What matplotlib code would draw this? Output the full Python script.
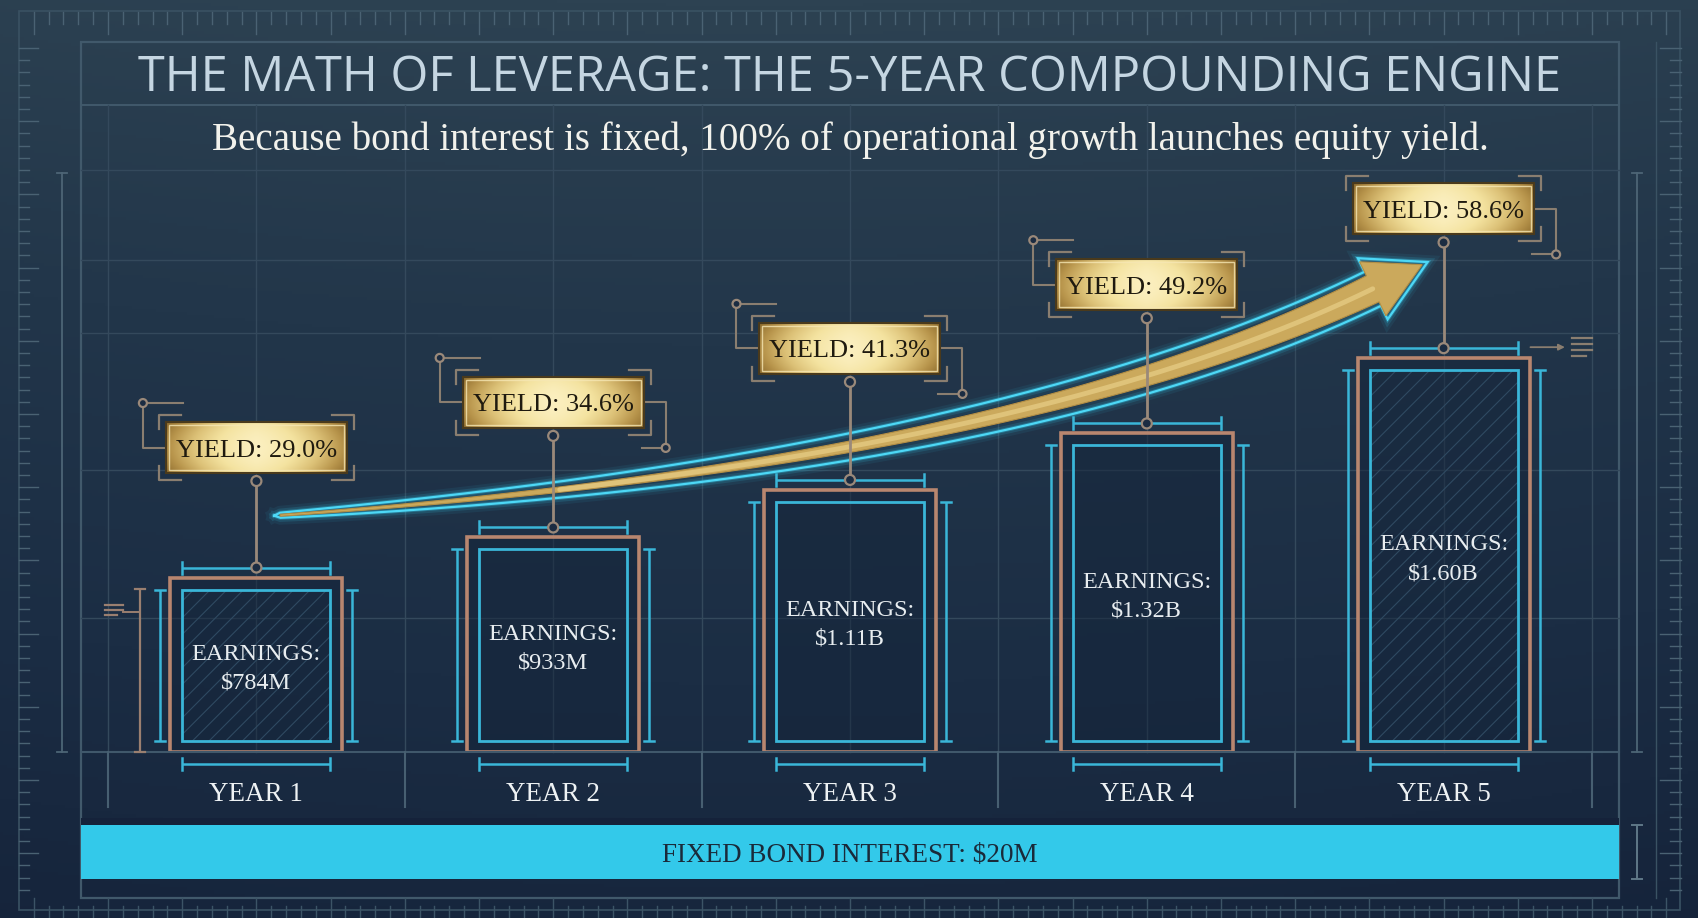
import numpy as np
import matplotlib.pyplot as plt
from matplotlib.patches import Rectangle, Circle, Polygon
from matplotlib.colors import LinearSegmentedColormap, to_rgba

# ---- data ----
years = ['YEAR 1', 'YEAR 2', 'YEAR 3', 'YEAR 4', 'YEAR 5']
earnings = [784, 933, 1110, 1320, 1600]          # $M
earnings_text = ['$784M', '$933M', '$1.11B', '$1.32B', '$1.60B']
yields = [29.0, 34.6, 41.3, 49.2, 58.6]           # equity yield, %
bond_interest = 20                                 # $M, fixed

title = 'THE MATH OF LEVERAGE: THE 5-YEAR COMPOUNDING ENGINE'
subtitle = 'Because bond interest is fixed, 100% of operational growth launches equity yield.'

W, H = 1698, 918
BRONZE = '#b8866f'
CYAN = '#3ab6d8'
LINE = '#9a897a'
GRID = '#34495c'
FRAME = '#41596b'
DARK = '#1b2c42'
SERIF = ['Liberation Serif', 'DejaVu Serif']
floor = 135  # value at the baseline of the bar axis

fig = plt.figure(figsize=(W / 100, H / 100), dpi=100)


def pix_axes(z):
    a = fig.add_axes([0, 0, 1, 1], zorder=z)
    a.set_xlim(0, W)
    a.set_ylim(H, 0)
    a.set_autoscale_on(False)
    a.axis('off')
    return a


bg = pix_axes(0)

# background gradient
yy = np.linspace(0, 1, 300)[:, None]
xx = np.linspace(0, 1, 500)[None, :]
val = 0.85 * yy + 0.25 * (xx - 0.45) ** 2
bg_cmap = LinearSegmentedColormap.from_list('bg', ['#2d4252', '#22364a', '#1b2d44', '#15233a'])
bg.imshow(val, cmap=bg_cmap, extent=[0, W, H, 0], aspect='auto', zorder=0, vmin=0, vmax=0.95)

# frames
bg.add_patch(Rectangle((19, 11), 1661, 899, fill=False, ec='#3a5263', lw=1.2, zorder=1))
bg.add_patch(Rectangle((81, 42), 1538, 856, fill=False, ec=FRAME, lw=1.6, zorder=1))
bg.plot([81, 1619], [105, 105], color=FRAME, lw=1.4, zorder=1)

# rulers
for k in range(-6, 110):
    xr = 108 + 14.84 * k
    if 22 < xr < 1678:
        major = k % 5 == 0
        bg.plot([xr, xr], [12, 34 if major else 24], color='#4a6273', lw=1, zorder=1)
        bg.plot([xr, xr], [918, 898 if major else 906], color='#3c5466', lw=1, zorder=1)
for k in range(0, 75):
    yr = 48 + 12.2 * k
    if yr < 900:
        major = k % 6 == 0
        bg.plot([19, 38 if major else 29], [yr, yr], color='#4a6273', lw=1, zorder=1)
        bg.plot([1681, 1660 if major else 1670], [yr, yr], color='#4a6273', lw=1, zorder=1)
bg.plot([1656, 1656], [42, 898], color='#3a5263', lw=1, zorder=1)

# blueprint grid
for k in range(11):
    xg = 108 + 148.4 * k
    bg.plot([xg, xg], [105, 752], color=GRID, lw=1, zorder=1)
for yg in [170, 260, 333, 470, 618]:
    bg.plot([81, 1619], [yg, yg], color=GRID, lw=1, zorder=1)

# long dimension lines at the sides
for xs in (62, 1637):
    bg.plot([xs, xs], [173, 752], color='#4d6576', lw=1.3, zorder=1)
    for yt in (173, 752):
        bg.plot([xs - 5, xs + 5], [yt, yt], color='#4d6576', lw=1.3, zorder=1)

# ---- bar axis ----
ax = fig.add_axes([108 / W, 1 - 752 / H, 1484 / W, 582 / H], zorder=1)
ax.set_xlim(-0.5, 4.5)
ax.set_ylim(floor, 2300)
ax.axis('off')
ay = ax.twinx()
ay.set_ylim(-8.77, 63.43)
ay.axis('off')
ay.set_zorder(1)

x = np.arange(len(years))
bw = 0.58
ax.bar(x, np.array(earnings) - floor, bottom=floor, width=bw,
       color=to_rgba('#15253a', 0.5), edgecolor=BRONZE, linewidth=2.6, zorder=2)

ov = pix_axes(2)


def to_px(a, xv, yv):
    px, py = a.transData.transform((xv, yv))
    return px, H - py


def dim_h(x0, x1, y, color=CYAN, lw=1.8, tick=6, z=4):
    ov.plot([x0, x1], [y, y], color=color, lw=lw, zorder=z, solid_capstyle='butt')
    for xe in (x0, x1):
        ov.plot([xe, xe], [y - tick, y + tick], color=color, lw=lw, zorder=z)


def dim_v(xv, y0, y1, color=CYAN, lw=1.8, tick=5, z=4):
    ov.plot([xv, xv], [y0, y1], color=color, lw=lw, zorder=z, solid_capstyle='butt')
    for ye in (y0, y1):
        ov.plot([xv - tick, xv + tick], [ye, ye], color=color, lw=lw, zorder=z)


def dot(cx, cy, r=5, z=8):
    ov.add_patch(Circle((cx, cy), r, fc=DARK, ec=LINE, lw=1.6, zorder=z))


gold_cmap = LinearSegmentedColormap.from_list('gold', ['#8c6a2c', '#b8954c', '#dcc177', '#f4e3a0', '#fbefbf'])
gx = np.linspace(-1, 1, 240)[None, :]
gy = np.linspace(-1, 1, 40)[:, None]
gold_grad = 1 - 0.85 * np.abs(gx) ** 1.4 - 0.2 * gy ** 2

left_leader = [True, True, True, True, False]
right_leader = [False, True, True, False, True]

# ---- trend arrow (drawn before stems so they cross over it) ----
tail = np.array(to_px(ay, 0.08, yields[0] - 8.4))
tip = np.array(to_px(ay, 3.94, yields[-1] - 6.7))
d2 = np.array([0.899, -0.438])
B = tip - 59 * d2
d0 = np.array([1.0, -0.07])
d0 = d0 / np.linalg.norm(d0)
s, u = np.linalg.solve(np.column_stack([d0, d2]), B - tail)
P1 = tail + s * d0
ts = np.linspace(0, 1, 200)[:, None]
pts = (1 - ts) ** 2 * tail + 2 * (1 - ts) * ts * P1 + ts ** 2 * B
tan = 2 * (1 - ts) * (P1 - tail) + 2 * ts * (B - P1)
tan = tan / np.linalg.norm(tan, axis=1)[:, None]
nrm = np.column_stack([-tan[:, 1], tan[:, 0]])
tt = ts[:, 0]
half_g = (1.0 + 13.5 * tt ** 1.3)[:, None]
half_c = half_g + (1.5 + 6.5 * np.sin(np.pi * tt * 0.88) ** 0.8)[:, None]
nB = nrm[-1]
gold_outline = np.vstack([pts + nrm * half_g, B + nB * 30, tip - 4 * d2,
                          B - nB * 30, (pts - nrm * half_g)[::-1]])
cyan_path = np.vstack([tail - 6 * tan[0], pts + nrm * half_c, B + nB * 34, tip + 2 * d2,
                       B - nB * 34, (pts - nrm * half_c)[::-1], tail - 6 * tan[0]])
for lw_, al in [(10, 0.07), (6, 0.14), (3, 0.3)]:
    ov.plot(cyan_path[:, 0], cyan_path[:, 1], color='#36d2f5', lw=lw_, alpha=al, zorder=3,
            solid_joinstyle='miter')
ov.plot(cyan_path[:, 0], cyan_path[:, 1], color='#4dd8f6', lw=1.6, zorder=3, solid_joinstyle='miter')
ov.add_patch(Polygon(gold_outline, closed=True, fc='#cba95c', ec='#b38f45', lw=0.8, zorder=3))
mid = pts[40:]
ov.plot(mid[:, 0], mid[:, 1], color='#f3de98', lw=3.5, alpha=0.5, zorder=3, solid_capstyle='round')

# ---- per-bar decorations ----
plt.rcParams['hatch.linewidth'] = 0.8
for i in range(len(years)):
    cx, top = to_px(ax, x[i], earnings[i])
    l, _ = to_px(ax, x[i] - bw / 2, floor)
    r, base = to_px(ax, x[i] + bw / 2, floor)
    il, ir, it, ib = l + 12, r - 12, top + 12, base - 11

    if i in (0, 4):
        ov.add_patch(Rectangle((il, it), ir - il, ib - it, fill=False, hatch='//',
                               ec='#2f4a62', lw=0, zorder=3))
    ov.add_patch(Rectangle((il, it), ir - il, ib - it, fill=False, ec=CYAN, lw=2, zorder=4))
    dim_v(l - 10, it, ib)
    dim_v(r + 10, it, ib)
    dim_h(il, ir, top - 10)
    dim_h(il, ir, base + 12)

    # earnings label
    midy = (top + base) / 2
    ov.text(cx, midy - 5, 'EARNINGS:', ha='center', va='baseline', fontsize=17.5,
            family=SERIF, color='#e8edf0', zorder=9)
    ov.text(cx, midy + 24, earnings_text[i], ha='center', va='baseline', fontsize=17.5,
            family=SERIF, color='#e8edf0', zorder=9)

    # yield box
    _, cy = to_px(ay, x[i], yields[i])
    bwp, bhp = 181, 51
    bl, br, bt, bb = cx - bwp / 2, cx + bwp / 2, cy - bhp / 2, cy + bhp / 2
    ov.imshow(gold_grad, cmap=gold_cmap, extent=[bl, br, bb, bt], aspect='auto',
              zorder=6, interpolation='bicubic')
    ov.add_patch(Rectangle((bl, bt), bwp, bhp, fill=False, ec='#4a3a1c', lw=1.5, zorder=7))
    ov.add_patch(Rectangle((bl + 3, bt + 3), bwp - 6, bhp - 6, fill=False, ec='#f6e7b4',
                           lw=1, alpha=0.8, zorder=7))
    ov.text(cx, cy + 9, f'YIELD: {yields[i]:.1f}%', ha='center', va='baseline', fontsize=19,
            family=SERIF, color='#1f1a0f', zorder=9)

    # corner brackets
    o = 7
    fl, fr, ft, fb = bl - o, br + o, bt - o, bb + o
    for (xc, yc, sx, sy) in [(fl, ft, 1, 1), (fr, ft, -1, 1), (fl, fb, 1, -1), (fr, fb, -1, -1)]:
        ov.plot([xc + sx * 22, xc, xc], [yc, yc, yc + sy * 14], color='#8a7e70', lw=1.6, zorder=5)

    if left_leader[i]:
        lx, ly = bl - 23, bt - 19
        ov.plot([lx, bl + 17], [ly, ly], color='#8a7e70', lw=1.5, zorder=5)
        ov.plot([lx, lx, bl], [ly, cy, cy], color='#8a7e70', lw=1.5, zorder=5)
        dot(lx, ly, r=4, z=6)
    if right_leader[i]:
        rx, ry = br + 22, bb + 20
        ov.plot([br, rx, rx], [cy, cy, ry], color='#8a7e70', lw=1.5, zorder=5)
        ov.plot([br - 2, rx], [ry, ry], color='#8a7e70', lw=1.5, zorder=5)
        dot(rx, ry, r=4, z=6)

    # stem from box to bar
    ov.plot([cx, cx], [bb + 8, top - 10], color=LINE, lw=2, zorder=5)
    dot(cx, bb + 8)
    dot(cx, top - 10)

    # year label
    ov.text(cx, base + 49, years[i], ha='center', va='baseline', fontsize=19.5,
            family=SERIF, color='#eef2f4', zorder=9)

    if i == 0:
        dim_v(l - 30, it - 1, base, color='#9a7f70', lw=1.6)
        ov.plot([l - 47, l - 30], [it + 22, it + 22], color='#9a7f70', lw=1.4, zorder=4)
        for k, ln in enumerate([18, 18, 12]):
            ov.plot([l - 65, l - 65 + ln], [it + 15 + 5 * k, it + 15 + 5 * k], color='#9a7f70',
                    lw=1.6, zorder=4)
    if i == len(years) - 1:
        ov.annotate('', xy=(r + 38, top - 11), xytext=(r - 2, top - 11),
                    arrowprops=dict(arrowstyle='-|>', color='#8a7e70', lw=1.3, mutation_scale=9),
                    zorder=4)
        for k, ln in enumerate([20, 20, 20, 14]):
            ov.plot([r + 42, r + 42 + ln], [top - 20 + 6 * k, top - 20 + 6 * k], color='#8a7e70',
                    lw=1.6, zorder=4)

# year row separators and baseline
_, base = to_px(ax, 0, floor)
ov.plot([81, 1619], [base, base], color='#40586b', lw=1.5, zorder=1)
for k in range(len(years) + 1):
    xs, _ = to_px(ax, k - 0.5, floor)
    ov.plot([xs, xs], [base, base + 55], color='#475f71', lw=1.5, zorder=1)

# fixed bond interest bar
bg.add_patch(Rectangle((81, 818), 1538, 8, fc='#15223a', ec='none', zorder=2))
ov.add_patch(Rectangle((81, 825), 1538, 54, fc='#33c9ea', ec='none', zorder=2))
ov.text(850, 862, f'FIXED BOND INTEREST: ${bond_interest}M', ha='center', va='baseline',
        fontsize=19.5, family=SERIF, color='#1a2a3a', zorder=9)
dim_v(1637, 825, 879, color='#5f7888', lw=1.4)

# titles, fitted to the reference widths
t1 = ov.text(850, 91, title, ha='center', va='baseline', fontsize=34,
             family=['Open Sans', 'Noto Sans', 'DejaVu Sans'], fontweight='normal',
             color='#c5d6e2', zorder=9)
t2 = ov.text(850, 150, subtitle, ha='center', va='baseline', fontsize=26,
             family=SERIF, color='#f2f2ec', zorder=9)
renderer = fig.canvas.get_renderer()
for t, target in [(t1, 1426), (t2, 1277)]:
    w = t.get_window_extent(renderer).width
    t.set_fontsize(t.get_fontsize() * target / w)

for a in (bg, ov):
    a.set_xlim(0, W)
    a.set_ylim(H, 0)

fig.savefig('out.png', dpi=100)
